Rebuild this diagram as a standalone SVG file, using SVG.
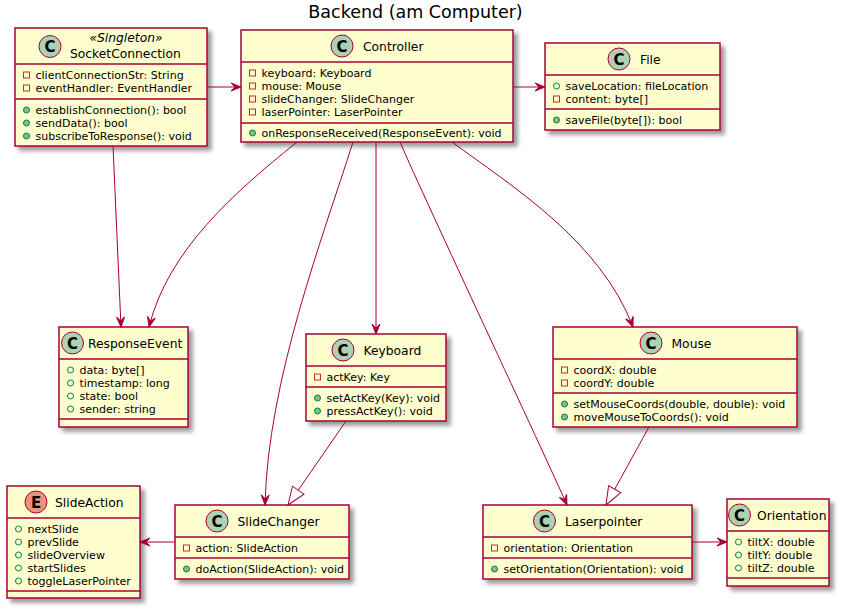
<svg xmlns="http://www.w3.org/2000/svg" width="842" height="611" viewBox="0 0 842 611">
<defs>
<filter id="sh" x="-1" y="-1" width="300%" height="300%">
<feGaussianBlur result="b1" stdDeviation="2"/>
<feColorMatrix type="matrix" in="b1" result="b2" values="0 0 0 0 0 0 0 0 0 0 0 0 0 0 0 0 0 0 .4 0"/>
<feOffset dx="4" dy="4" in="b2" result="b3"/>
<feBlend in="SourceGraphic" in2="b3" mode="normal"/>
</filter>
<marker id="arr" markerUnits="userSpaceOnUse" orient="auto" refX="0" refY="0" markerWidth="12" markerHeight="10" viewBox="-11 -5 12 10" overflow="visible">
<path d="M0,0 L-10,-4 L-6,0 L-10,4 Z" fill="#A80036" stroke="#A80036" stroke-width="1"/>
</marker>
<marker id="tri" markerUnits="userSpaceOnUse" orient="auto" refX="0" refY="0" markerWidth="22" markerHeight="18" viewBox="-20 -9 22 18" overflow="visible">
<path d="M0,0 L-18,-7 L-18,7 Z" fill="#FFFFFF" stroke="#A80036" stroke-width="1"/>
</marker>
</defs>
<style>
text{font-family:"DejaVu Sans","Liberation Sans",sans-serif;fill:#000000}
.box{fill:#FEFECE;stroke:#A80036;stroke-width:1.5;filter:url(#sh)}
.sep{stroke:#A80036;stroke-width:1.5}
.spot{fill:#ADD1B2;stroke:#A80036;stroke-width:1}
.spotE{fill:#EB937F;stroke:#A80036;stroke-width:1}
.sl{font-size:15px;font-weight:bold;text-anchor:middle}
.name{font-size:12.3px}
.st{font-size:12.3px;font-style:italic;text-anchor:middle}
.mem{font-size:11px}
.priv{fill:none;stroke:#C82930;stroke-width:1}
.pubf{fill:none;stroke:#038048;stroke-width:1}
.pubm{fill:#84BE84;stroke:#038048;stroke-width:1}
.edge{fill:none;stroke:#A80036;stroke-width:1}
.title{font-size:17.5px;text-anchor:middle}
</style>
<rect width="842" height="611" fill="#FFFFFF"/>
<text class="title" x="415.5" y="18">Backend (am Computer)</text>

<g id="SocketConnection">
<rect class="box" x="15" y="28" width="192" height="118"/>
<line class="sep" x1="15" y1="64" x2="207" y2="64"/>
<line class="sep" x1="15" y1="99" x2="207" y2="99"/>
<circle class="spot" cx="50" cy="46.5" r="11"/>
<text class="sl" x="50" y="52">C</text>
<text class="st" x="126" y="42">«Singleton»</text>
<text class="name" x="70" y="58">SocketConnection</text>
<rect class="priv" x="23.5" y="72" width="6" height="6"/>
<text class="mem" x="35.5" y="79">clientConnectionStr: String</text>
<rect class="priv" x="23.5" y="85" width="6" height="6"/>
<text class="mem" x="35.5" y="92">eventHandler: EventHandler</text>
<circle class="pubm" cx="26.5" cy="110" r="3"/>
<text class="mem" x="35.5" y="114">establishConnection(): bool</text>
<circle class="pubm" cx="26.5" cy="123" r="3"/>
<text class="mem" x="35.5" y="127">sendData(): bool</text>
<circle class="pubm" cx="26.5" cy="136" r="3"/>
<text class="mem" x="35.5" y="140">subscribeToResponse(): void</text>
</g>

<g id="Controller">
<rect class="box" x="241" y="30" width="272" height="112"/>
<line class="sep" x1="241" y1="62" x2="513" y2="62"/>
<line class="sep" x1="241" y1="123" x2="513" y2="123"/>
<circle class="spot" cx="342" cy="46" r="11"/>
<text class="sl" x="342" y="51.5">C</text>
<text class="name" x="363" y="50.5">Controller</text>
<rect class="priv" x="249.5" y="70" width="6" height="6"/>
<text class="mem" x="261.5" y="77">keyboard: Keyboard</text>
<rect class="priv" x="249.5" y="83" width="6" height="6"/>
<text class="mem" x="261.5" y="90">mouse: Mouse</text>
<rect class="priv" x="249.5" y="96" width="6" height="6"/>
<text class="mem" x="261.5" y="103">slideChanger: SlideChanger</text>
<rect class="priv" x="249.5" y="109" width="6" height="6"/>
<text class="mem" x="261.5" y="116">laserPointer: LaserPointer</text>
<circle class="pubm" cx="252.5" cy="133" r="3"/>
<text class="mem" x="261.5" y="137">onResponseReceived(ResponseEvent): void</text>
</g>

<g id="File">
<rect class="box" x="545" y="43" width="175" height="87"/>
<line class="sep" x1="545" y1="75" x2="720" y2="75"/>
<line class="sep" x1="545" y1="109" x2="720" y2="109"/>
<circle class="spot" cx="619" cy="59" r="11"/>
<text class="sl" x="619" y="64.5">C</text>
<text class="name" x="640" y="63.5">File</text>
<circle class="pubf" cx="556.5" cy="86" r="3"/>
<text class="mem" x="565.5" y="90">saveLocation: fileLocation</text>
<rect class="priv" x="553.5" y="96" width="6" height="6"/>
<text class="mem" x="565.5" y="103">content: byte[]</text>
<circle class="pubm" cx="556.5" cy="120" r="3"/>
<text class="mem" x="565.5" y="124">saveFile(byte[]): bool</text>
</g>

<g id="ResponseEvent">
<rect class="box" x="59" y="327" width="129" height="100"/>
<line class="sep" x1="59" y1="359" x2="188" y2="359"/>
<line class="sep" x1="59" y1="419" x2="188" y2="419"/>
<circle class="spot" cx="72.5" cy="343" r="11"/>
<text class="sl" x="72.5" y="348.5">C</text>
<text class="name" x="88" y="347.5">ResponseEvent</text>
<circle class="pubf" cx="70.5" cy="370" r="3"/>
<text class="mem" x="79.5" y="374">data: byte[]</text>
<circle class="pubf" cx="70.5" cy="383" r="3"/>
<text class="mem" x="79.5" y="387">timestamp: long</text>
<circle class="pubf" cx="70.5" cy="396" r="3"/>
<text class="mem" x="79.5" y="400">state: bool</text>
<circle class="pubf" cx="70.5" cy="409" r="3"/>
<text class="mem" x="79.5" y="413">sender: string</text>
</g>

<g id="Keyboard">
<rect class="box" x="306" y="334" width="140" height="87"/>
<line class="sep" x1="306" y1="366" x2="446" y2="366"/>
<line class="sep" x1="306" y1="387" x2="446" y2="387"/>
<circle class="spot" cx="343" cy="350" r="11"/>
<text class="sl" x="343" y="355.5">C</text>
<text class="name" x="363.5" y="354.5">Keyboard</text>
<rect class="priv" x="314.5" y="374" width="6" height="6"/>
<text class="mem" x="326.5" y="381">actKey: Key</text>
<circle class="pubm" cx="317.5" cy="398" r="3"/>
<text class="mem" x="326.5" y="402">setActKey(Key): void</text>
<circle class="pubm" cx="317.5" cy="411" r="3"/>
<text class="mem" x="326.5" y="415">pressActKey(): void</text>
</g>

<g id="Mouse">
<rect class="box" x="553" y="327" width="244" height="100"/>
<line class="sep" x1="553" y1="359" x2="797" y2="359"/>
<line class="sep" x1="553" y1="393" x2="797" y2="393"/>
<circle class="spot" cx="651" cy="343" r="11"/>
<text class="sl" x="651" y="348.5">C</text>
<text class="name" x="671.5" y="347.5">Mouse</text>
<rect class="priv" x="561.5" y="367" width="6" height="6"/>
<text class="mem" x="573.5" y="374">coordX: double</text>
<rect class="priv" x="561.5" y="380" width="6" height="6"/>
<text class="mem" x="573.5" y="387">coordY: double</text>
<circle class="pubm" cx="564.5" cy="404" r="3"/>
<text class="mem" x="573.5" y="408">setMouseCoords(double, double): void</text>
<circle class="pubm" cx="564.5" cy="417" r="3"/>
<text class="mem" x="573.5" y="421">moveMouseToCoords(): void</text>
</g>

<g id="SlideAction">
<rect class="box" x="7" y="486" width="133" height="112"/>
<line class="sep" x1="7" y1="518" x2="140" y2="518"/>
<line class="sep" x1="7" y1="591" x2="140" y2="591"/>
<circle class="spotE" cx="36" cy="502" r="11"/>
<text class="sl" x="36" y="507.5">E</text>
<text class="name" x="55" y="506.5">SlideAction</text>
<circle class="pubf" cx="18.5" cy="529" r="3"/>
<text class="mem" x="27.5" y="533">nextSlide</text>
<circle class="pubf" cx="18.5" cy="542" r="3"/>
<text class="mem" x="27.5" y="546">prevSlide</text>
<circle class="pubf" cx="18.5" cy="555" r="3"/>
<text class="mem" x="27.5" y="559">slideOverview</text>
<circle class="pubf" cx="18.5" cy="568" r="3"/>
<text class="mem" x="27.5" y="572">startSlides</text>
<circle class="pubf" cx="18.5" cy="581" r="3"/>
<text class="mem" x="27.5" y="585">toggleLaserPointer</text>
</g>

<g id="SlideChanger">
<rect class="box" x="175" y="505" width="174" height="74"/>
<line class="sep" x1="175" y1="537" x2="349" y2="537"/>
<line class="sep" x1="175" y1="558" x2="349" y2="558"/>
<circle class="spot" cx="217" cy="521" r="11"/>
<text class="sl" x="217" y="526.5">C</text>
<text class="name" x="237.5" y="525.5">SlideChanger</text>
<rect class="priv" x="183.5" y="545" width="6" height="6"/>
<text class="mem" x="195.5" y="552">action: SlideAction</text>
<circle class="pubm" cx="186.5" cy="569" r="3"/>
<text class="mem" x="195.5" y="573">doAction(SlideAction): void</text>
</g>

<g id="Laserpointer">
<rect class="box" x="483" y="505" width="209" height="74"/>
<line class="sep" x1="483" y1="537" x2="692" y2="537"/>
<line class="sep" x1="483" y1="558" x2="692" y2="558"/>
<circle class="spot" cx="544.5" cy="521" r="11"/>
<text class="sl" x="544.5" y="526.5">C</text>
<text class="name" x="565" y="525.5">Laserpointer</text>
<rect class="priv" x="491.5" y="545" width="6" height="6"/>
<text class="mem" x="503.5" y="552">orientation: Orientation</text>
<circle class="pubm" cx="494.5" cy="569" r="3"/>
<text class="mem" x="503.5" y="573">setOrientation(Orientation): void</text>
</g>

<g id="Orientation">
<rect class="box" x="727" y="499" width="102" height="87"/>
<line class="sep" x1="727" y1="531" x2="829" y2="531"/>
<line class="sep" x1="727" y1="578" x2="829" y2="578"/>
<circle class="spot" cx="739.5" cy="515" r="11"/>
<text class="sl" x="739.5" y="520.5">C</text>
<text class="name" x="757" y="519.5">Orientation</text>
<circle class="pubf" cx="738.5" cy="542" r="3"/>
<text class="mem" x="747.5" y="546">tiltX: double</text>
<circle class="pubf" cx="738.5" cy="555" r="3"/>
<text class="mem" x="747.5" y="559">tiltY: double</text>
<circle class="pubf" cx="738.5" cy="568" r="3"/>
<text class="mem" x="747.5" y="572">tiltZ: double</text>
</g>

<g id="connectors">
<path class="edge" d="M207,87 L241,87" marker-end="url(#arr)"/>
<path class="edge" d="M513,87 L545,87" marker-end="url(#arr)"/>
<path class="edge" d="M113,146 L121,327" marker-end="url(#arr)"/>
<path class="edge" d="M297,142 C235,192 168,250 149,327" marker-end="url(#arr)"/>
<path class="edge" d="M353,142 C322,240 268,380 265,505" marker-end="url(#arr)"/>
<path class="edge" d="M376,142 L376,334" marker-end="url(#arr)"/>
<path class="edge" d="M400,142 C425,200 545,455 567,505" marker-end="url(#arr)"/>
<path class="edge" d="M452,142 C510,185 600,240 633,327" marker-end="url(#arr)"/>
<path class="edge" d="M346,421 L288,505" marker-end="url(#tri)"/>
<path class="edge" d="M649,427 L606,505" marker-end="url(#tri)"/>
<path class="edge" d="M175,542 L140,542" marker-end="url(#arr)"/>
<path class="edge" d="M692,542 L727,542" marker-end="url(#arr)"/>
</g>
</svg>
